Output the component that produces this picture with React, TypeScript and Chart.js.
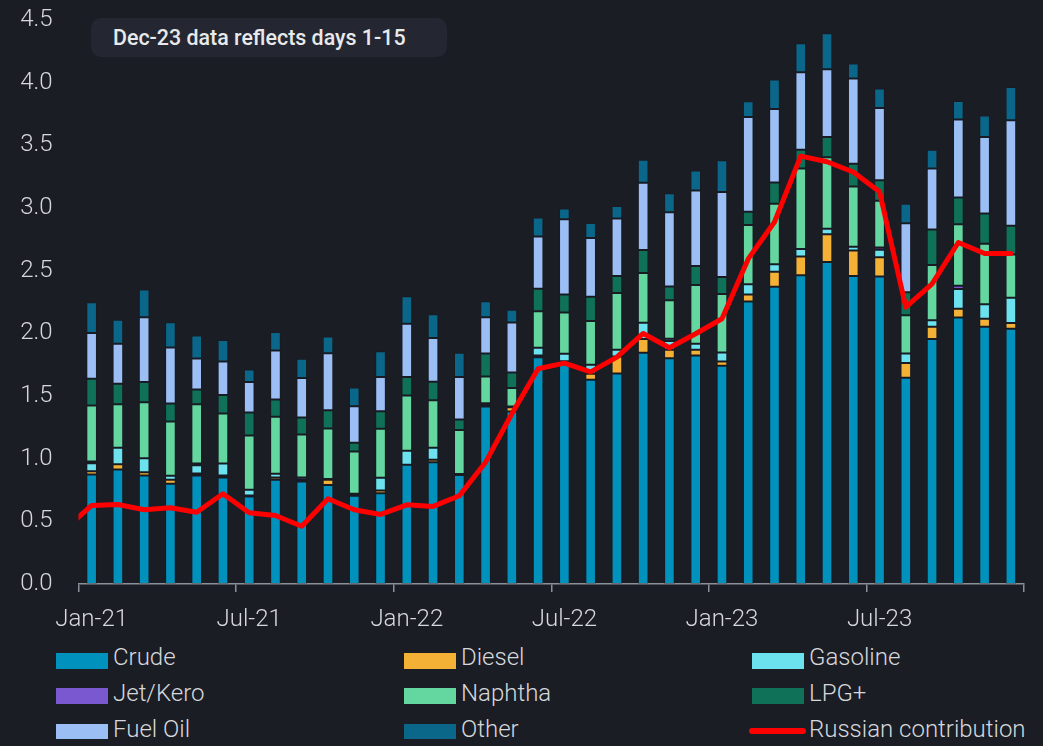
import React, { useEffect, useRef } from "react";
import { Chart, registerables } from "chart.js";

Chart.register(...registerables);

const leadMonth = "Dec-20";
const months = [
  "Jan-21", "Feb-21", "Mar-21", "Apr-21", "May-21", "Jun-21", "Jul-21", "Aug-21", "Sep-21", "Oct-21", "Nov-21", "Dec-21",
  "Jan-22", "Feb-22", "Mar-22", "Apr-22", "May-22", "Jun-22", "Jul-22", "Aug-22", "Sep-22", "Oct-22", "Nov-22", "Dec-22",
  "Jan-23", "Feb-23", "Mar-23", "Apr-23", "May-23", "Jun-23", "Jul-23", "Aug-23", "Sep-23", "Oct-23", "Nov-23", "Dec-23",
];

const crude = [0.874, 0.914, 0.866, 0.8, 0.866, 0.85, 0.698, 0.831, 0.818, 0.789, 0.704, 0.725, 0.951, 0.972, 0.869, 1.417, 1.377, 1.81, 1.778, 1.629, 1.68, 1.845, 1.802, 1.824, 1.741, 2.253, 2.371, 2.463, 2.569, 2.457, 2.454, 1.645, 1.955, 2.126, 2.053, 2.037];
const diesel = [0.026, 0.042, 0.026, 0.031, 0.016, 0.016, 0.008, 0.019, 0.008, 0.042, 0, 0.021, 0, 0.019, 0, 0.016, 0.034, 0.014, 0, 0.048, 0.136, 0.109, 0.067, 0.045, 0.035, 0.057, 0.121, 0.151, 0.222, 0.204, 0.153, 0.118, 0.098, 0.071, 0.064, 0.045];
const gasoline = [0.064, 0.131, 0.112, 0.032, 0.066, 0.096, 0.046, 0.029, 0.005, 0.006, 0.016, 0.101, 0.112, 0.096, 0.008, 0.01, 0.005, 0.061, 0.059, 0.072, 0.053, 0.13, 0.069, 0.048, 0.072, 0.082, 0.059, 0.059, 0.044, 0.029, 0.059, 0.077, 0.052, 0.157, 0.115, 0.201];
const jetKero = [0.014, 0, 0, 0, 0.014, 0, 0, 0, 0.019, 0, 0, 0, 0, 0, 0, 0, 0, 0, 0, 0, 0, 0, 0.019, 0, 0, 0, 0, 0, 0, 0, 0.018, 0, 0, 0.026, 0, 0];
const naphtha = [0.447, 0.348, 0.447, 0.434, 0.473, 0.399, 0.433, 0.455, 0.343, 0.404, 0.337, 0.391, 0.441, 0.38, 0.351, 0.213, 0.147, 0.292, 0.33, 0.349, 0.452, 0.397, 0.306, 0.468, 0.465, 0.472, 0.482, 0.643, 0.57, 0.482, 0.373, 0.304, 0.441, 0.491, 0.482, 0.345];
const lpg = [0.213, 0.162, 0.16, 0.144, 0.117, 0.146, 0.184, 0.138, 0.136, 0.146, 0.07, 0.141, 0.147, 0.146, 0.085, 0.184, 0.125, 0.179, 0.143, 0.194, 0.136, 0.183, 0.111, 0.152, 0.136, 0.107, 0.171, 0.148, 0.162, 0.182, 0.165, 0.183, 0.283, 0.212, 0.242, 0.231];
const fuelOil = [0.364, 0.32, 0.518, 0.446, 0.248, 0.269, 0.242, 0.392, 0.314, 0.455, 0.291, 0.272, 0.425, 0.349, 0.338, 0.289, 0.399, 0.417, 0.601, 0.468, 0.46, 0.538, 0.593, 0.603, 0.678, 0.755, 0.585, 0.62, 0.541, 0.68, 0.575, 0.552, 0.487, 0.623, 0.611, 0.841];
const other = [0.247, 0.191, 0.221, 0.202, 0.183, 0.17, 0.101, 0.146, 0.154, 0.133, 0.149, 0.207, 0.219, 0.191, 0.194, 0.126, 0.101, 0.152, 0.086, 0.12, 0.098, 0.183, 0.15, 0.16, 0.253, 0.125, 0.236, 0.23, 0.286, 0.118, 0.157, 0.154, 0.148, 0.147, 0.171, 0.266];
const russianLead = 0.44;
const russian = [0.627, 0.634, 0.592, 0.608, 0.573, 0.72, 0.568, 0.547, 0.461, 0.68, 0.592, 0.555, 0.632, 0.619, 0.704, 0.972, 1.358, 1.717, 1.762, 1.693, 1.81, 1.999, 1.885, 1.997, 2.116, 2.594, 2.888, 3.414, 3.369, 3.287, 3.13, 2.209, 2.395, 2.725, 2.637, 2.637];

const yTicks = [0, 0.5, 1, 1.5, 2, 2.5, 3, 3.5, 4, 4.5];
const annotationText = "Dec-23 data reflects days 1-15";

const series = [
  { name: "Crude", data: crude, color: "#0091bd" },
  { name: "Diesel", data: diesel, color: "#f3b236" },
  { name: "Gasoline", data: gasoline, color: "#6ce2ef" },
  { name: "Jet/Kero", data: jetKero, color: "#7a58cf" },
  { name: "Naphtha", data: naphtha, color: "#63d79f" },
  { name: "LPG+", data: lpg, color: "#0f7157" },
  { name: "Fuel Oil", data: fuelOil, color: "#9bbff5" },
  { name: "Other", data: other, color: "#0b6789" },
];
const lineName = "Russian contribution";
const lineColor = "#ff0000";

const BG = "#1b1d25";
const TEXT = "#d6d8dc";
const AXIS = "#8b9099";
const FONT_SIZE = 24;

export default function App() {
  const ref = useRef<HTMLCanvasElement | null>(null);

  useEffect(() => {
    if (!ref.current) return;
    const labels = [leadMonth, ...months];
    const chart = new Chart(ref.current, {
      type: "bar",
      data: {
        labels,
        datasets: [
          {
            type: "line",
            label: lineName,
            data: [russianLead, ...russian],
            borderColor: lineColor,
            backgroundColor: lineColor,
            borderWidth: 5,
            pointRadius: 0,
            tension: 0,
            borderJoinStyle: "round",
            borderCapStyle: "round",
            order: 0,
            clip: { left: 0, top: false, right: false, bottom: false } as any,
          } as any,
          ...series.map((s) => ({
            type: "bar",
            label: s.name,
            data: [null, ...s.data],
            backgroundColor: s.color,
            borderColor: "rgba(20,22,30,0.28)",
            borderWidth: 1,
            borderSkipped: false,
            categoryPercentage: 1,
            barPercentage: 0.405,
            stack: "s",
            order: 1,
          })),
        ] as any,
      },
      options: {
        responsive: false,
        animation: false,
        layout: { padding: { left: 0, right: 19, top: 20, bottom: 0 } },
        plugins: { legend: { display: false }, tooltip: { enabled: false } },
        scales: {
          x: {
            stacked: true,
            min: months[0],
            grid: {
              offset: true,
              drawOnChartArea: false,
              drawTicks: true,
              tickLength: 8,
              color: (ctx: any) => (ctx.type === "scale" || ctx.index % 6 === 0 ? AXIS : "rgba(0,0,0,0)"),
              tickColor: (ctx: any) => (ctx.type === "scale" || ctx.index % 6 === 0 ? AXIS : "rgba(0,0,0,0)"),
              lineWidth: 1.5,
            },
            border: { display: true, color: AXIS, width: 1.5 },
            ticks: {
              autoSkip: false,
              maxRotation: 0,
              padding: 14,
              color: TEXT,
              font: { family: "Roboto", size: FONT_SIZE, weight: "300" },
              callback: (value: any, index: number) => (index % 6 === 0 ? labels[value] : ""),
            },
            afterFit: (scale: any) => {
              scale.height = 56;
              scale.paddingLeft = 0;
              scale.paddingRight = 0;
            },
          },
          y: {
            stacked: true,
            min: 0,
            max: 4.5,
            grid: { display: false, drawTicks: false },
            border: { display: false },
            afterBuildTicks: (scale: any) => {
              scale.ticks = yTicks.map((v) => ({ value: v }));
            },
            ticks: {
              padding: 26,
              color: TEXT,
              font: { family: "Roboto", size: FONT_SIZE, weight: "300" },
              callback: (v: any) => Number(v).toFixed(1),
            },
            afterFit: (scale: any) => {
              scale.width = 78.5;
              scale.paddingTop = 0;
              scale.paddingBottom = 0;
            },
          },
        },
      } as any,
    });
    return () => chart.destroy();
  }, []);

  const legendItems = [
    ...series.map((s) => ({ name: s.name, color: s.color, line: false })),
    { name: lineName, color: lineColor, line: true },
  ];
  const colX = [56, 404, 752];

  return (
    <div style={{ position: "absolute", left: 0, top: 0, width: 1043, height: 746, background: BG, overflow: "hidden", fontFamily: "Roboto, sans-serif" }}>
      <canvas ref={ref} width={1043} height={640} style={{ position: "absolute", left: 0, top: 0, width: 1043, height: 640 }} />
      <div
        style={{
          position: "absolute",
          left: 91,
          top: 18,
          width: 356,
          height: 39,
          borderRadius: 10,
          background: "#242731",
          color: "#e8e9eb",
          fontSize: 21.4,
          fontWeight: 500,
          lineHeight: "39px",
          paddingLeft: 22,
          boxSizing: "border-box",
          whiteSpace: "nowrap",
        }}
      >
        {annotationText}
      </div>
      {legendItems.map((it, i) => {
        const col = i % 3;
        const row = Math.floor(i / 3);
        const x = colX[col];
        const boxTop = 653 + row * 35.4;
        const textTop = 644 + row * 35.8;
        return (
          <React.Fragment key={it.name}>
            {it.line ? (
              <div style={{ position: "absolute", left: x - 3, top: boxTop + 4.5, width: 57, height: 6, borderRadius: 3, background: it.color }} />
            ) : (
              <div style={{ position: "absolute", left: x, top: boxTop, width: 52, height: 15.5, background: it.color }} />
            )}
            <div
              style={{
                position: "absolute",
                left: x + 57,
                top: textTop,
                fontSize: FONT_SIZE,
                lineHeight: "26px",
                fontWeight: 300,
                color: TEXT,
                whiteSpace: "nowrap",
              }}
            >
              {it.name}
            </div>
          </React.Fragment>
        );
      })}
    </div>
  );
}
